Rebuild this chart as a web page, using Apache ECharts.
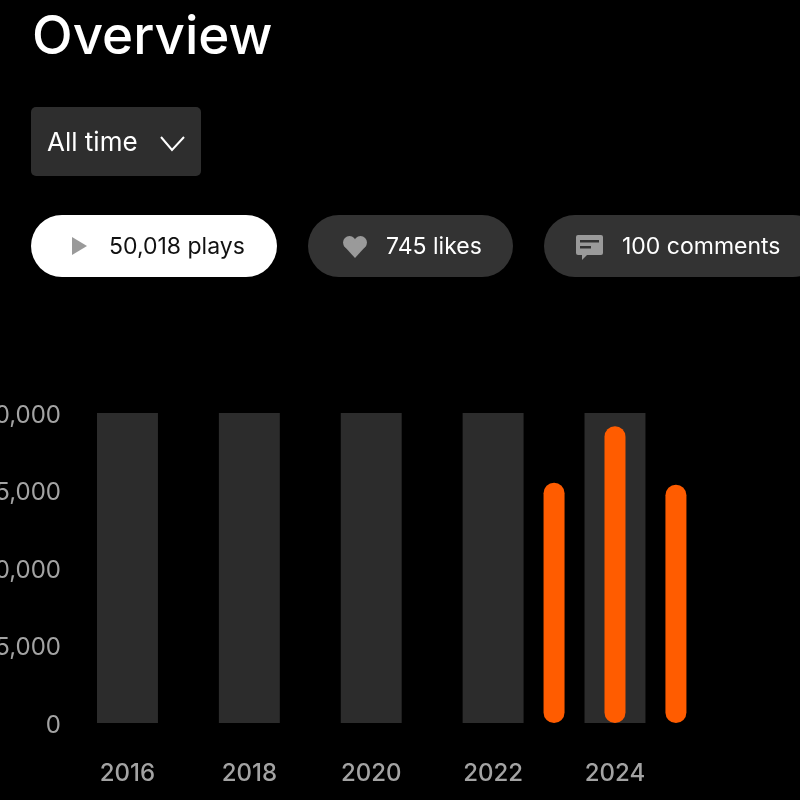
<!DOCTYPE html>
<html>
<head>
<meta charset="utf-8">
<title>Overview</title>
<style>
html, body { margin: 0; padding: 0; background: #000; }
#main { width: 800px; height: 800px; }
</style>
</head>
<body>
<div id="main"></div>
<script src="https://cdn.jsdelivr.net/npm/echarts@6/dist/echarts.min.js"></script>
<script>
var years = ['2016', '2017', '2018', '2019', '2020', '2021', '2022', '2023', '2024', '2025'];
var plays = [null, null, null, null, null, null, null, 15500, 19150, 15368];
var yMax = 20000;
var yStep = 5000;

var titleText = 'Overview';
var rangeText = 'All time';
var playsText = '50,018 plays';
var likesText = '745 likes';
var commentsText = '100 comments';

var font = 'Inter, "Noto Sans", sans-serif';
var chipGrey = '#333333';
var iconGrey = '#9a9a9a';

function label(x, y, text, size, color, weight) {
    return {
        type: 'text',
        x: x,
        y: y,
        style: {
            text: text,
            fontFamily: font,
            fontSize: size,
            fontWeight: weight || 400,
            fill: color,
            textVerticalAlign: 'middle'
        }
    };
}

function box(x, y, w, h, r, color) {
    return {
        type: 'rect',
        shape: { x: x, y: y, width: w, height: h, r: r },
        style: { fill: color }
    };
}

function dot(cx, cy, r, color) {
    return {
        type: 'circle',
        shape: { cx: cx, cy: cy, r: r },
        style: { fill: color }
    };
}

function poly(points, color) {
    return {
        type: 'polygon',
        shape: { points: points },
        style: { fill: color }
    };
}

var myChart = echarts.init(document.getElementById('main'));

var option = {
    backgroundColor: '#000',
    animation: false,
    // the y labels run off the left edge in the reference, so no bounds fitting
    grid: { left: 97, right: 93.6, top: 413, bottom: 77, outerBoundsMode: 'none' },
    xAxis: {
        type: 'category',
        data: years,
        axisLine: { show: false },
        axisTick: { show: false },
        axisLabel: {
            interval: 1,
            margin: 39,
            color: '#a3a3a3',
            fontFamily: font,
            fontSize: 24,
            fontWeight: 500
        },
        splitArea: {
            show: true,
            interval: 0,
            areaStyle: { color: ['#2c2c2c', 'rgba(0,0,0,0)'] }
        }
    },
    yAxis: {
        type: 'value',
        min: 0,
        max: yMax,
        interval: yStep,
        splitLine: { show: false },
        axisLine: { show: false },
        axisTick: { show: false },
        axisLabel: {
            margin: 36,
            color: '#a3a3a3',
            fontFamily: font,
            fontSize: 24,
            // short line box drops the text a little below the tick
            verticalAlign: 'top',
            lineHeight: 5,
            formatter: function (v) { return v.toLocaleString('en-US'); }
        }
    },
    series: [{
        name: 'Plays',
        type: 'bar',
        data: plays,
        barWidth: 21,
        itemStyle: { color: '#ff5c00', borderRadius: 10.5 }
    }],
    graphic: [
        label(32, 38, titleText, 53, '#ffffff', 500),
        // filter dropdown
        box(31, 107, 170, 69, 5, '#2e2e2e'),
        label(47, 143, rangeText, 26, '#ffffff'),
        {
            type: 'polyline',
            shape: { points: [[161, 137], [172, 150], [184, 137]] },
            style: { stroke: '#ffffff', lineWidth: 2, fill: null }
        },
        // plays chip
        box(31, 215, 246, 62, 31, '#ffffff'),
        poly([[72, 237], [87, 246], [72, 255]], iconGrey),
        label(109, 247, playsText, 23, '#111111'),
        // likes chip
        box(308, 215, 205, 62, 31, chipGrey),
        dot(349.5, 242.5, 6.5, iconGrey),
        dot(360.5, 242.5, 6.5, iconGrey),
        poly([[343.6, 245.5], [355, 258], [366.4, 245.5], [355, 240]], iconGrey),
        label(386, 247, likesText, 23, '#ffffff'),
        // comments chip
        box(544, 215, 280, 62, 31, chipGrey),
        box(576, 235, 27, 20, 2, iconGrey),
        poly([[582, 254], [582, 260], [588, 254]], iconGrey),
        box(580, 240, 19, 2.5, 0, chipGrey),
        box(580, 246, 11, 2.5, 0, chipGrey),
        label(622, 247, commentsText, 23, '#ffffff')
    ]
};
myChart.setOption(option);
window.addEventListener('resize', function () {
    myChart.resize();
});
</script>
</body>
</html>
